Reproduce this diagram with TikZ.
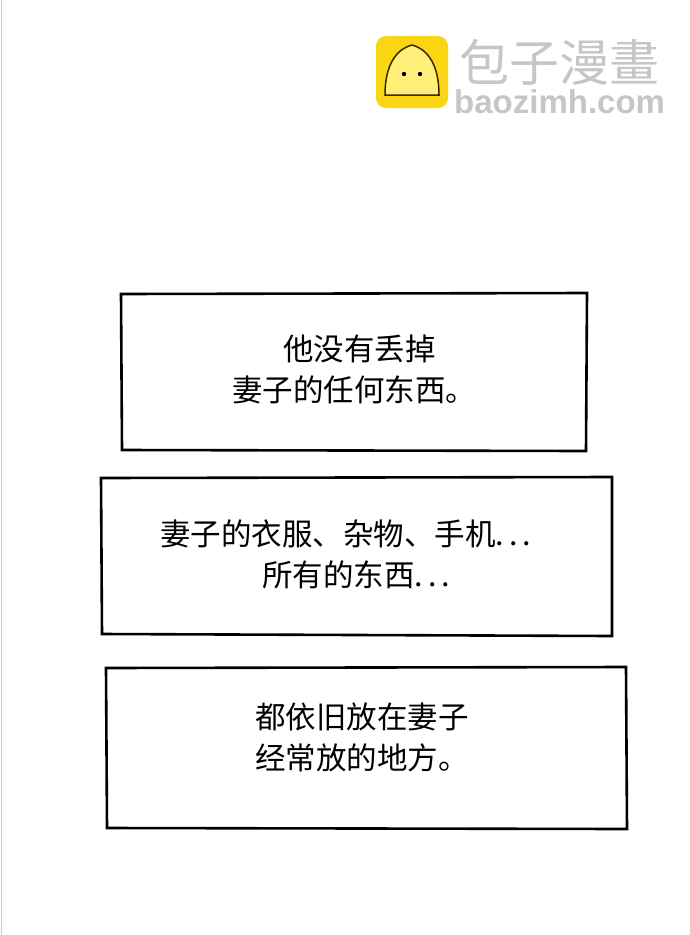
\documentclass[tikz,border=0pt]{standalone}
\usepackage{fontspec}
\newfontfamily\cjk{Noto Sans CJK SC}
\setmainfont{Liberation Sans}
\definecolor{logoY}{RGB}{250,214,20}
\definecolor{bunY}{RGB}{255,238,120}
\definecolor{bunLine}{RGB}{60,40,0}
\begin{document}
\begin{tikzpicture}[x=1pt,y=-1pt,
  panel/.style={draw=black,line width=2.6pt},
  txt/.style={font=\cjk\fontsize{30.5}{41}\selectfont,align=left,anchor=north west,inner sep=0pt}]
\useasboundingbox (0,0) rectangle (690,935);
\fill[white] (0,0) rectangle (690,935);
\draw[gray!40,line width=1pt] (1,0) -- (1,935);
% logo
\node[fill=logoY,rounded corners=10pt,minimum width=72pt,minimum height=72pt,inner sep=0pt] (logo) at (412,72) {};
\filldraw[fill=bunY,draw=bunLine,line width=1.5pt] (385,95) .. controls (385,60) and (400,48) .. (412,45) .. controls (424,48) and (439,60) .. (439,95) -- cycle;
\fill[black] (404,74) circle (2.2pt) (420,74) circle (2.2pt);
\node[font=\cjk\fontsize{50}{50}\selectfont,text=gray!45,anchor=west,inner sep=0pt] (brand) at (459,62) {包子漫畫};
\node[font=\fontsize{33}{33}\selectfont\bfseries,text=gray!45,anchor=west,inner sep=0pt] (url) at (454,102) {baozimh.com};
% panels
\draw[panel] (121,294) -- (587,293) -- (586,451) -- (122,450) -- cycle;
\draw[panel] (101,478) -- (612,477) -- (612,636) -- (102,634) -- cycle;
\draw[panel] (106,668) -- (626,667) -- (627,829) -- (107,828) -- cycle;
\node[txt] (t1) at (232,335) {\hspace*{51pt}他没有丢掉\\妻子的任何东西。};
\node[txt] (t2) at (160,520) {妻子的衣服、杂物、手机.\,.\,.\\\hspace*{102pt}所有的东西.\,.\,.};
\node[txt] (t3) at (255,703) {都依旧放在妻子\\经常放的地方。};
\end{tikzpicture}
\end{document}
